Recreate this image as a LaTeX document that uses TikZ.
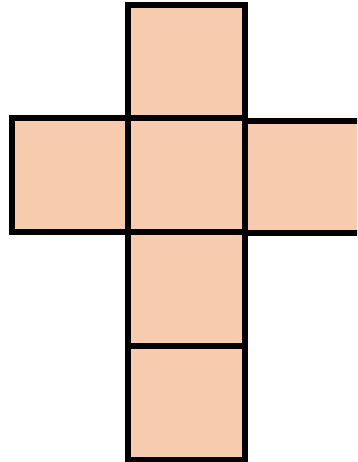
\documentclass[tikz,border=0pt]{standalone}
\definecolor{facefill}{HTML}{F7CBAE}
\begin{document}
\begin{tikzpicture}[x=1pt,y=-1pt,
  face/.style={draw=black, fill=facefill, line width=6pt, inner sep=0pt, outer sep=0pt, anchor=north west, minimum width=116.5pt, minimum height=113.5pt}]
\useasboundingbox (0,0) rectangle (357,462);
\clip (0,0) rectangle (357,462);
\node[face] (top) at (128,5) {};
\node[face] (left) at (12,118) {};
\node[face, minimum height=112pt] (right) at (244.5,121) {};
\node[face] (center) at (128,118.5) {};
\node[face] (below) at (128,232) {};
\node[face, minimum height=113.5pt] (bottom) at (128,346) {};
\end{tikzpicture}
\end{document}
